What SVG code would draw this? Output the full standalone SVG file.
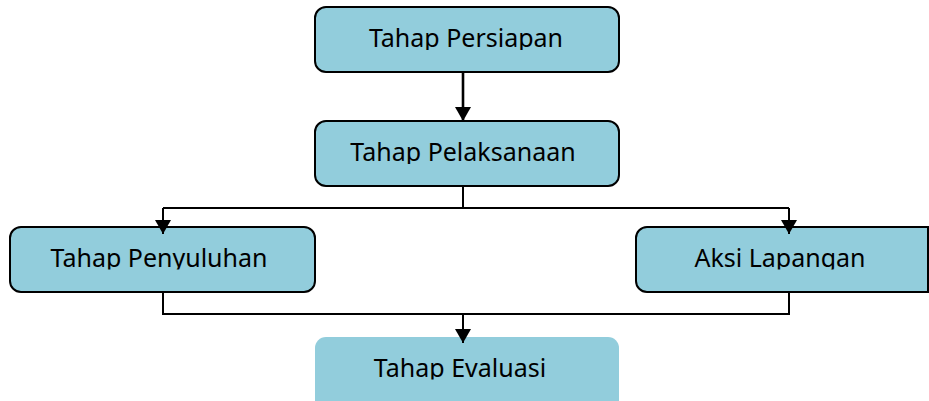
<svg xmlns="http://www.w3.org/2000/svg" width="929" height="401" viewBox="0 0 929 401">
  <style>
    .box { fill: #92CDDC; stroke: #000; stroke-width: 2; }
    .boxplain { fill: #92CDDC; stroke: none; }
    .lbl { font-family: "Noto Sans", "Open Sans", sans-serif; font-size: 25px; fill: #000; text-anchor: middle; }
    .wire { fill: none; stroke: #000; stroke-width: 2; }
    .wire-thick { fill: none; stroke: #000; stroke-width: 2.6; }
  </style>
  <defs>
    <marker id="arrow" markerUnits="userSpaceOnUse" markerWidth="16" markerHeight="16" refX="14" refY="8" orient="auto" viewBox="0 0 16 16">
      <path d="M0,0 L14,8 L0,16 Z" fill="#000"/>
    </marker>
    <clipPath id="c1"><rect x="0" y="0" width="929" height="50"/></clipPath>
    <clipPath id="c2"><rect x="0" y="100" width="929" height="64"/></clipPath>
    <clipPath id="c3"><rect x="0" y="220" width="929" height="49.5"/></clipPath>
    <clipPath id="c5"><rect x="0" y="330" width="929" height="49.5"/></clipPath>
  </defs>
  <rect width="929" height="401" fill="#fff"/>

  <g id="node-persiapan">
    <rect class="box" x="315" y="7" width="304" height="65" rx="11"/>
    <text class="lbl" x="466" y="47" clip-path="url(#c1)">Tahap Persiapan</text>
  </g>
  <g id="node-pelaksanaan">
    <rect class="box" x="315" y="121" width="304" height="65" rx="11"/>
    <text class="lbl" x="463" y="161" clip-path="url(#c2)">Tahap Pelaksanaan</text>
  </g>
  <g id="node-penyuluhan">
    <rect class="box" x="10" y="227" width="305" height="65" rx="11"/>
    <text class="lbl" x="159" y="267" clip-path="url(#c3)">Tahap Penyuluhan</text>
  </g>
  <g id="node-aksi">
    <path class="box" d="M647,227 H928 V292 H647 A11,11 0 0 1 636,281 V238 A11,11 0 0 1 647,227 Z"/>
    <text class="lbl" x="780" y="267" clip-path="url(#c3)">Aksi Lapangan</text>
  </g>
  <g id="node-evaluasi">
    <rect class="boxplain" x="315" y="337" width="304" height="80" rx="11"/>
    <text class="lbl" x="460" y="377" clip-path="url(#c5)">Tahap Evaluasi</text>
  </g>

  <g id="connectors">
    <line class="wire-thick" x1="463" y1="73" x2="463" y2="121" marker-end="url(#arrow)"/>
    <path class="wire" d="M463,187 V208 H163 M463,208 H789"/>
    <line class="wire" x1="163" y1="208" x2="163" y2="234" marker-end="url(#arrow)"/>
    <line class="wire" x1="789" y1="208" x2="789" y2="234" marker-end="url(#arrow)"/>
    <path class="wire" d="M163,293 V314 H789 V293"/>
    <line class="wire" x1="463" y1="314" x2="463" y2="343" marker-end="url(#arrow)"/>
  </g>
</svg>
